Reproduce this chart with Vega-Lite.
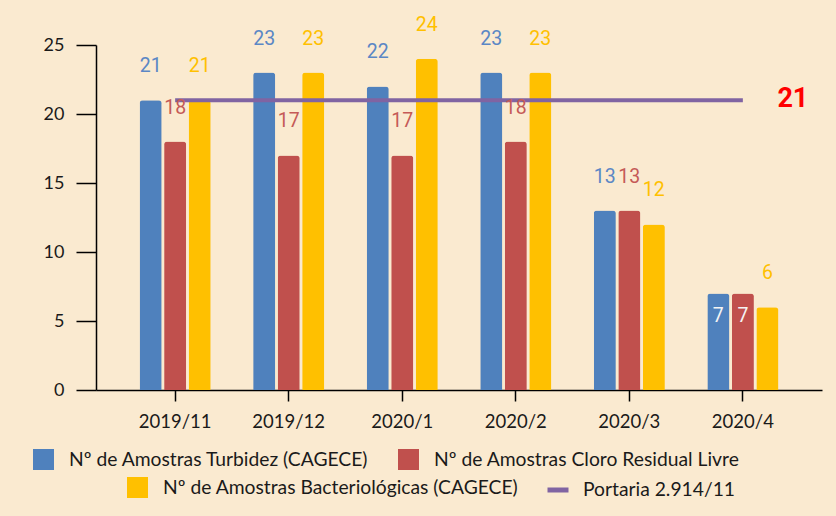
{
  "$schema": "https://vega.github.io/schema/vega-lite/v6.json",
  "autosize": "none",
  "width": 726,
  "height": 345,
  "padding": {"left": 96, "top": 45, "right": 14, "bottom": 126},
  "background": "#FAEAD0",
  "config": {
    "view": {"stroke": null},
    "font": "Lato",
    "legend": {"padding": 0, "labelFont": "Lato", "labelFontSize": 19.3, "labelColor": "#1a1a1a", "labelLimit": 500, "title": null}
  },
  "datasets": {
    "bars": [
      {"month": "2019/11", "series": "Nº de Amostras Turbidez (CAGECE)", "value": 21},
      {"month": "2019/11", "series": "Nº de Amostras Cloro Residual Livre", "value": 18},
      {"month": "2019/11", "series": "Nº de Amostras Bacteriológicas (CAGECE)", "value": 21},
      {"month": "2019/12", "series": "Nº de Amostras Turbidez (CAGECE)", "value": 23},
      {"month": "2019/12", "series": "Nº de Amostras Cloro Residual Livre", "value": 17},
      {"month": "2019/12", "series": "Nº de Amostras Bacteriológicas (CAGECE)", "value": 23},
      {"month": "2020/1", "series": "Nº de Amostras Turbidez (CAGECE)", "value": 22},
      {"month": "2020/1", "series": "Nº de Amostras Cloro Residual Livre", "value": 17},
      {"month": "2020/1", "series": "Nº de Amostras Bacteriológicas (CAGECE)", "value": 24},
      {"month": "2020/2", "series": "Nº de Amostras Turbidez (CAGECE)", "value": 23},
      {"month": "2020/2", "series": "Nº de Amostras Cloro Residual Livre", "value": 18},
      {"month": "2020/2", "series": "Nº de Amostras Bacteriológicas (CAGECE)", "value": 23},
      {"month": "2020/3", "series": "Nº de Amostras Turbidez (CAGECE)", "value": 13},
      {"month": "2020/3", "series": "Nº de Amostras Cloro Residual Livre", "value": 13},
      {"month": "2020/3", "series": "Nº de Amostras Bacteriológicas (CAGECE)", "value": 12},
      {"month": "2020/4", "series": "Nº de Amostras Turbidez (CAGECE)", "value": 7},
      {"month": "2020/4", "series": "Nº de Amostras Cloro Residual Livre", "value": 7},
      {"month": "2020/4", "series": "Nº de Amostras Bacteriológicas (CAGECE)", "value": 6}
    ],
    "portaria": [
      {"month": "2019/11", "series": "Portaria 2.914/11", "value": 21},
      {"month": "2019/12", "series": "Portaria 2.914/11", "value": 21},
      {"month": "2020/1", "series": "Portaria 2.914/11", "value": 21},
      {"month": "2020/2", "series": "Portaria 2.914/11", "value": 21},
      {"month": "2020/3", "series": "Portaria 2.914/11", "value": 21},
      {"month": "2020/4", "series": "Portaria 2.914/11", "value": 21}
    ]
  },
  "encoding": {
    "x": {
      "field": "month", "type": "nominal", "sort": null,
      "scale": {"paddingInner": 0.374, "paddingOuter": 0.384},
      "axis": {"title": null, "labelAngle": 0, "labelFont": "Lato", "labelFontSize": 18.5, "labelColor": "#1a1a1a", "domainColor": "#000000", "domainWidth": 1.5, "tickColor": "#000000", "tickWidth": 1.5, "tickSize": 11, "labelPadding": 11}
    },
    "y": {
      "field": "value", "type": "quantitative",
      "scale": {"domain": [0, 25], "nice": false},
      "axis": {"title": null, "values": [0, 5, 10, 15, 20, 25], "grid": false, "labelFont": "Lato", "labelFontSize": 18, "labelColor": "#1a1a1a", "domainColor": "#000000", "domainWidth": 1.5, "tickColor": "#000000", "tickWidth": 1.5, "tickSize": 20, "labelPadding": 12}
    }
  },
  "layer": [
    {
      "data": {"name": "bars"},
      "transform": [{"filter": "datum.series != 'Nº de Amostras Bacteriológicas (CAGECE)'"}],
      "mark": {"type": "bar", "cornerRadiusTopLeft": 3, "cornerRadiusTopRight": 3},
      "encoding": {
        "xOffset": {"field": "series", "type": "nominal", "scale": {"domain": ["Nº de Amostras Turbidez (CAGECE)", "Nº de Amostras Cloro Residual Livre", "Nº de Amostras Bacteriológicas (CAGECE)"], "paddingInner": 0.1, "paddingOuter": 0}},
        "color": {
          "field": "series", "type": "nominal",
          "scale": {"domain": ["Nº de Amostras Turbidez (CAGECE)", "Nº de Amostras Cloro Residual Livre"], "range": ["#4F81BD", "#C0504D"]},
          "legend": {"orient": "none", "legendX": -63, "legendY": 404, "direction": "horizontal", "symbolType": "square", "symbolSize": 441, "symbolStrokeWidth": 0, "labelOffset": 15, "columnPadding": 29}
        }
      }
    },
    {
      "data": {"name": "bars"},
      "transform": [{"filter": "datum.series == 'Nº de Amostras Bacteriológicas (CAGECE)'"}],
      "mark": {"type": "bar", "cornerRadiusTopLeft": 3, "cornerRadiusTopRight": 3},
      "encoding": {
        "xOffset": {"field": "series", "type": "nominal"},
        "color": {
          "field": "series", "type": "nominal",
          "scale": {"domain": ["Nº de Amostras Bacteriológicas (CAGECE)"], "range": ["#FFC000"]},
          "legend": {"orient": "none", "legendX": 31, "legendY": 432, "direction": "horizontal", "symbolType": "square", "symbolSize": 441, "symbolStrokeWidth": 0, "labelOffset": 15}
        }
      }
    },
    {
      "data": {"name": "portaria"},
      "mark": {"type": "line", "strokeWidth": 4},
      "encoding": {
        "stroke": {
          "field": "series", "type": "nominal",
          "scale": {"domain": ["Portaria 2.914/11"], "range": ["#8064A2"]},
          "legend": {"orient": "none", "legendX": 449, "legendY": 432, "direction": "horizontal", "symbolType": "stroke", "symbolSize": 441, "symbolStrokeWidth": 5, "labelOffset": 12}
        }
      }
    },
    {
      "data": {"name": "portaria"},
      "transform": [{"filter": "datum.month == '2020/4'"}],
      "mark": {"type": "text", "font": "Roboto", "fontSize": 27, "fontWeight": "bold", "color": "#FF0000", "dx": 50, "dy": -1, "align": "center", "baseline": "middle"},
      "encoding": {"text": {"field": "value", "type": "quantitative"}}
    },
    {
      "data": {"name": "bars"},
      "transform": [{"filter": "datum.value != 7"}],
      "mark": {"type": "text", "font": "Roboto", "fontSize": 19.5, "dy": -34, "align": "center", "baseline": "middle"},
      "encoding": {
        "xOffset": {"field": "series", "type": "nominal"},
        "text": {"field": "value", "type": "quantitative"},
        "color": {
          "field": "series", "type": "nominal", "legend": null,
          "scale": {"domain": ["Nº de Amostras Turbidez (CAGECE)", "Nº de Amostras Cloro Residual Livre", "Nº de Amostras Bacteriológicas (CAGECE)"], "range": ["#5B87C5", "#C55A57", "#FFC000"]}
        }
      }
    },
    {
      "data": {"name": "bars"},
      "transform": [{"filter": "datum.value == 7"}],
      "mark": {"type": "text", "font": "Roboto", "fontSize": 19.5, "dy": 23, "align": "center", "baseline": "middle", "color": "#F4F4F4"},
      "encoding": {
        "xOffset": {"field": "series", "type": "nominal"},
        "text": {"field": "value", "type": "quantitative"}
      }
    }
  ],
  "resolve": {"scale": {"color": "independent"}}
}
